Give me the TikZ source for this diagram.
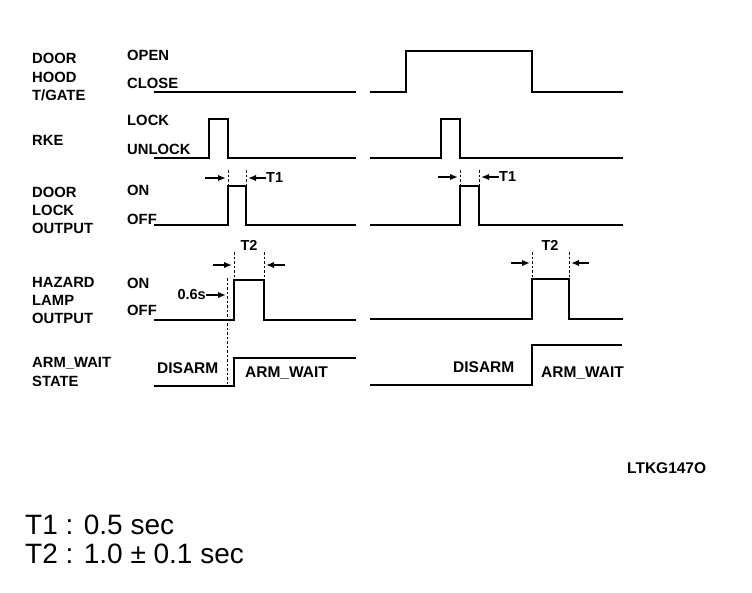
\documentclass[tikz,border=0pt]{standalone}
\usepackage{fontspec}
\setmainfont{Liberation Sans}
\usetikzlibrary{arrows.meta}
\tikzset{
  lbl/.style={font=\fontsize{14.8}{16}\selectfont\bfseries, inner sep=0pt},
  lvl/.style={font=\fontsize{14.8}{16}\selectfont\bfseries, inner sep=0pt, anchor=west},
  st/.style={font=\fontsize{15.5}{17}\selectfont\bfseries, inner sep=0pt, anchor=west},
  tlbl/.style={font=\fontsize{14.5}{16}\selectfont\bfseries, inner sep=0pt},
  wave/.style={line width=2.9pt, line join=miter, line cap=rect},
  dmark/.style={line width=0.8pt, dash pattern=on 2.5pt off 2pt},
  tarrow/.style={line width=1.8pt, -{Latex[length=8pt,width=6.5pt]}},
  note/.style={font=\fontsize{28}{30}\selectfont, inner sep=0pt, anchor=west}
}
\begin{document}
\begin{tikzpicture}[x=1pt,y=-1pt]
\useasboundingbox[fill=white] (0,0) rectangle (752,592);
% left signal names
\node[lbl,anchor=west] (n1a) at (32,58) {DOOR};
\node[lbl,anchor=west] (n1b) at (32,77) {HOOD};
\node[lbl,anchor=west] (n1c) at (32,95) {T/GATE};
\node[lbl,anchor=west] (n2) at (32,140) {RKE};
\node[lbl,anchor=west] (n3a) at (32,192) {DOOR};
\node[lbl,anchor=west] (n3b) at (32,210) {LOCK};
\node[lbl,anchor=west] (n3c) at (32,228) {OUTPUT};
\node[lbl,anchor=west] (n4a) at (32,282) {HAZARD};
\node[lbl,anchor=west] (n4b) at (32,300) {LAMP};
\node[lbl,anchor=west] (n4c) at (32,318) {OUTPUT};
\node[lbl,anchor=west] (n5a) at (32,363) {ARM\_WAIT};
\node[lbl,anchor=west] (n5b) at (32,381) {STATE};
% level names
\node[lvl] (open) at (127,55) {OPEN};
\node[lvl] (close) at (127,83) {CLOSE};
\node[lvl] (lock) at (127,120) {LOCK};
\node[lvl] (unlock) at (127,149) {UNLOCK};
\node[lvl] (on1) at (127,190) {ON};
\node[lvl] (off1) at (127,219) {OFF};
\node[lvl] (on2) at (127,283) {ON};
\node[lvl] (off2) at (127,310) {OFF};
\node[st] (disL) at (157,368) {DISARM};
\node[st] (armL) at (245,373) {ARM\_WAIT};
\node[st] (disR) at (453,367) {DISARM};
\node[st] (armR) at (541,373) {ARM\_WAIT};
% waveforms
\draw[wave] (155,92) -- (355,92);
\draw[wave] (371,92) -- (406,92) -- (406,51) -- (532,51) -- (532,92) -- (622,92);
\draw[wave] (155,158) -- (209,158) -- (209,119) -- (228,119) -- (228,158) -- (355,158);
\draw[wave] (371,158) -- (441,158) -- (441,119) -- (460,119) -- (460,158) -- (622,158);
\draw[wave] (155,225) -- (228,225) -- (228,186) -- (246,186) -- (246,225) -- (355,225);
\draw[wave] (371,225) -- (460,225) -- (460,186) -- (479,186) -- (479,225) -- (622,225);
\draw[wave] (155,320) -- (234,320) -- (234,280) -- (264,280) -- (264,320) -- (355,320);
\draw[wave] (371,319) -- (532,319) -- (532,279) -- (569,279) -- (569,319) -- (622,319);
\draw[wave] (155,386) -- (234,386) -- (234,358) -- (355,358);
\draw[wave] (371,385) -- (532,385) -- (532,345) -- (621,345);
% dashed markers
\draw[dmark] (228,170) -- (228,186);
\draw[dmark] (246,170) -- (246,186);
\draw[dmark] (460,170) -- (460,186);
\draw[dmark] (479,170) -- (479,186);
\draw[dmark] (234,252) -- (234,280);
\draw[dmark] (264,252) -- (264,280);
\draw[dmark] (532,252) -- (532,279);
\draw[dmark] (569,252) -- (569,279);
\draw[dmark] (227,278) -- (227,387);
% T1 left
\coordinate (t1la) at (205,178);
\coordinate (t1lb) at (226,178);
\coordinate (t1lc) at (248,178);
\node[tlbl,anchor=west] (t1l) at (266,178) {T1};
\draw[tarrow] (t1la) -- (t1lb);
\draw[tarrow] (t1l.west) -- (t1lc);
% T1 right
\coordinate (t1ra) at (438,177);
\coordinate (t1rb) at (458,177);
\coordinate (t1rc) at (481,177);
\node[tlbl,anchor=west] (t1r) at (499,177) {T1};
\draw[tarrow] (t1ra) -- (t1rb);
\draw[tarrow] (t1r.west) -- (t1rc);
% T2 left
\node[tlbl] (t2l) at (249,245) {T2};
\coordinate (t2la) at (213,265);
\coordinate (t2lb) at (232,265);
\coordinate (t2lc) at (285,265);
\coordinate (t2ld) at (266,265);
\draw[tarrow] (t2la) -- (t2lb);
\draw[tarrow] (t2lc) -- (t2ld);
% T2 right
\node[tlbl] (t2r) at (550,245) {T2};
\coordinate (t2ra) at (511,263);
\coordinate (t2rb) at (530,263);
\coordinate (t2rc) at (589,263);
\coordinate (t2rd) at (571,263);
\draw[tarrow] (t2ra) -- (t2rb);
\draw[tarrow] (t2rc) -- (t2rd);
% 0.6 s
\node[tlbl,anchor=east] (d06) at (206,295) {0.6s};
\coordinate (d06b) at (226,295);
\draw[tarrow] (d06.east) -- (d06b);
% code
\node[font=\fontsize{15.5}{17}\selectfont\bfseries, inner sep=0pt, anchor=west] (code) at (627,468) {LTKG147O};
% notes
\node[note] (t1note) at (25,525) {T1 : 0.5 sec};
\node[note] (t2note) at (25,554) {T2 : 1.0 ± 0.1 sec};
\end{tikzpicture}
\end{document}
